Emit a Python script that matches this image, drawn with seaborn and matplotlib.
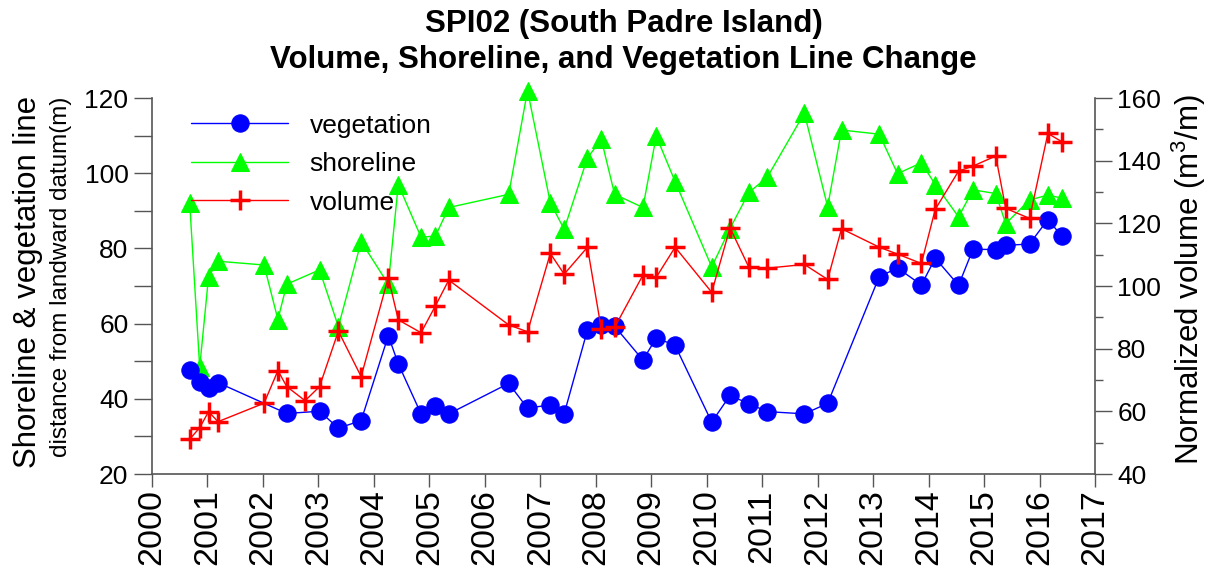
import numpy as np
import pandas as pd
import matplotlib
matplotlib.use("Agg")
import matplotlib.pyplot as plt
from matplotlib.ticker import MultipleLocator
import seaborn as sns

# Survey dates (decimal years) shared by all three series; NaN = not surveyed
survey_dates = [2000.68, 2000.86, 2001.02, 2001.19, 2002.02, 2002.27, 2002.43, 2002.76,
                2003.02, 2003.36, 2003.77, 2004.26, 2004.44, 2004.85, 2005.11, 2005.35,
                2006.43, 2006.77, 2007.18, 2007.43, 2007.85, 2008.10, 2008.34, 2008.85,
                2009.09, 2009.43, 2010.09, 2010.42, 2010.76, 2011.09, 2011.76, 2012.18,
                2012.43, 2013.11, 2013.44, 2013.87, 2014.12, 2014.54, 2014.80, 2015.21,
                2015.39, 2015.82, 2016.15, 2016.40]

nan = np.nan
vegetation_m = [47.7, 44.4, 43.0, 44.3, nan, nan, 36.1, nan,
                36.7, 32.2, 34.2, 56.8, 49.3, 36.0, 38.2, 36.0,
                44.1, 37.5, 38.4, 36.0, 58.3, 59.6, 59.3, 50.3,
                56.2, 54.2, 33.8, 40.9, 38.7, 36.6, 36.0, 38.8,
                nan, 72.5, 74.8, 70.3, 77.4, 70.2, 79.8, 79.7,
                80.8, 81.2, 87.7, 83.3]

shoreline_m = [92.0, 48.4, 72.5, 76.6, 75.6, 61.1, 70.5, nan,
               74.3, 59.2, 81.8, 70.5, 97.0, 83.0, 83.3, 90.9,
               94.4, 122.0, 92.2, 85.1, 104.1, 109.0, 94.4, 90.9,
               109.9, 97.8, 75.1, 85.3, 94.9, 98.9, 116.0, 91.1,
               111.5, 110.4, 99.9, 102.8, 97.0, 88.4, 95.6, 94.6,
               86.6, 92.9, 94.2, 93.4]

volume_m3m = [51.1, 54.8, 59.9, 56.7, 62.6, 73.0, 67.9, 63.4,
              67.9, 85.6, 71.1, 102.7, 89.2, 85.1, 93.7, 101.9,
              87.6, 85.4, 110.4, 103.8, 112.4, 86.2, 86.8, 103.5,
              102.8, 112.4, 98.0, 118.6, 106.0, 105.7, 106.9, 102.1,
              118.3, 112.4, 110.2, 107.2, 124.5, 136.7, 138.3, 141.5,
              124.8, 121.6, 148.7, 146.1]

year_ticks = list(range(2000, 2018))

df = pd.DataFrame({"date": survey_dates, "vegetation": vegetation_m,
                   "shoreline": shoreline_m, "volume": volume_m3m})

sns.set_style("ticks")
plt.rcParams["font.family"] = ["Liberation Sans", "DejaVu Sans"]
plt.rcParams["mathtext.fontset"] = "custom"
plt.rcParams["mathtext.rm"] = "Liberation Sans"
plt.rcParams["text.color"] = "black"
plt.rcParams["xtick.labelcolor"] = "black"
plt.rcParams["ytick.labelcolor"] = "black"

fig = plt.figure(figsize=(12.14, 5.77), dpi=100)
ax = fig.add_axes([0.1252, 0.1785, 0.7768, 0.6515])
ax2 = ax.twinx()

veg = df.dropna(subset=["vegetation"])
sho = df.dropna(subset=["shoreline"])
vol = df.dropna(subset=["volume"])

sns.lineplot(data=sho, x="date", y="shoreline", ax=ax, estimator=None, sort=False,
             color="#00FF00", lw=1.0, marker="^", markersize=13, mec="#00FF00",
             mfc="#00FF00", label="shoreline", legend=False, clip_on=False, zorder=3)
sns.lineplot(data=veg, x="date", y="vegetation", ax=ax, estimator=None, sort=False,
             color="#0000FF", lw=1.0, marker="o", markersize=12.5, mec="#0000FF",
             mfc="#0000FF", label="vegetation", legend=False, zorder=4)
sns.lineplot(data=vol, x="date", y="volume", ax=ax2, estimator=None, sort=False,
             color="#FF0000", lw=1.0, marker="+", markersize=15, mew=2.5,
             mec="#FF0000", label="volume", legend=False, zorder=5)

ax.set_xlim(2000, 2017)
ax.set_ylim(20, 120)
ax2.set_ylim(40, 160)

ax.set_xticks(year_ticks)
ax.set_xticklabels([str(y) for y in year_ticks], rotation=90, fontsize=24.5)
ax.yaxis.set_major_locator(MultipleLocator(20))
ax.yaxis.set_minor_locator(MultipleLocator(10))
ax2.yaxis.set_major_locator(MultipleLocator(20))
ax2.yaxis.set_minor_locator(MultipleLocator(10))

spine_col = "#555555"
ax.tick_params(axis="x", which="major", direction="out", length=9, width=1,
               color=spine_col, pad=2)
ax.tick_params(axis="y", which="both", direction="out", length=13, width=1,
               color=spine_col, labelsize=19, pad=4)
ax2.tick_params(axis="y", which="major", direction="out", length=12, width=1,
                color=spine_col, labelsize=19, pad=4)
ax2.tick_params(axis="y", which="minor", direction="out", length=6, width=1,
                color=spine_col)

for a in (ax, ax2):
    a.spines["top"].set_visible(False)
    for s in ("left", "right", "bottom"):
        a.spines[s].set_color(spine_col)
        a.spines[s].set_linewidth(1.2)
    a.set_xlabel("")
    a.set_ylabel("")
ax.spines["right"].set_visible(False)
ax2.spines["left"].set_visible(False)
ax2.spines["bottom"].set_visible(False)

ax.set_title("SPI02 (South Padre Island)\nVolume, Shoreline, and Vegetation Line Change",
             fontsize=22.5, fontweight="bold", pad=22, linespacing=1.25)

fig.text(0.023, 0.511, "Shoreline & vegetation line", rotation=90, fontsize=22.5,
         ha="center", va="center")
fig.text(0.0505, 0.52, "distance from landward datum(m)", rotation=90, fontsize=17.5,
         ha="center", va="center")
fig.text(0.979, 0.516, r"Normalized volume (m$^{3}$/m)", rotation=90, fontsize=22.5,
         ha="center", va="center")

h1, l1 = ax.get_legend_handles_labels()
h2, l2 = ax2.get_legend_handles_labels()
order = ["vegetation", "shoreline", "volume"]
hl = dict(zip(l1 + l2, h1 + h2))
ax2.legend([hl[k] for k in order], order, loc="upper left",
           bbox_to_anchor=(0.016, 1.022), frameon=False, fontsize=19,
           handlelength=3.7, handletextpad=0.8, labelspacing=0.55, numpoints=1)

fig.savefig("out.png", dpi=100)
